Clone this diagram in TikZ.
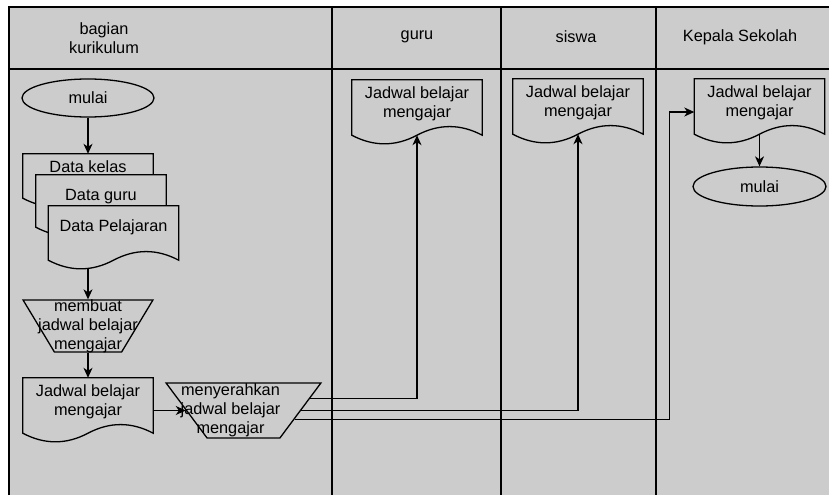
\documentclass[tikz,border=0pt]{standalone}
\usepackage{fontspec}
\setmainfont{Liberation Sans}
\usetikzlibrary{shapes.geometric,arrows.meta,backgrounds,positioning}
\definecolor{lanegray}{HTML}{CCCCCC}
\tikzset{lane line/.style={black,line width=1.3pt},
         lane label/.style={align=center},
         start node/.style={ellipse,draw,fill=lanegray,line width=1.3pt,minimum width=132pt,minimum height=38pt,inner sep=0pt},
         doc node/.style={rectangle,draw=none,minimum width=130pt,minimum height=55pt,inner sep=0pt},
         doc text/.style={anchor=north,align=center,inner xsep=0pt,inner ysep=7pt},
         doc line/.style={draw=black,fill=lanegray,line width=1.3pt},
         manual node/.style={trapezium,draw,fill=lanegray,line width=1.3pt,shape border rotate=180,trapezium stretches=true,inner sep=4pt},
         flow/.style={->,line width=1.2pt},
}
% document outline with a wavy bottom, drawn round a doc node
\newcommand{\docshape}[1]{%
  \path[doc line] (#1.north west) -- (#1.north east) -- (#1.south east)
    .. controls +(-21.7,-11.5) and +(21.7,-11.5) .. (#1.south)
    .. controls +(-21.7,11.5) and +(21.7,11.5) .. (#1.south west) -- cycle;}

\begin{document}
\begin{tikzpicture}[x=1pt,y=-1pt,>={Stealth[length=10pt,width=9pt,inset=3pt]},
font=\fontsize{16.3}{19}\selectfont]
\useasboundingbox (0,0) rectangle (829,495);
\begin{scope}[on background layer]
\fill[lanegray] (9,7) rectangle (829,495);
\draw[lane line] (9,495) -- (9,7) -- (829,7);
\draw[lane line] (9,69) -- (829,69);
\foreach \x in {332,501,656}
  \draw[lane line] (\x,7) -- (\x,495);
\end{scope}

% lane headers
\node[lane label] (hkur) at (104,38.5) {bagian\\kurikulum};
\node (hguru) at (417,37) {guru};
\node (hsiswa) at (576,37) {siswa};
\node (hkepala) at (740,37) {Kepala Sekolah};

% bagian kurikulum
\node[start node] (mulai) at (88,98) {mulai};
\node[doc node,minimum height=44pt,label={[doc text]north:Data kelas}] (dkelas) at (88,176) {};
\node[doc node,minimum height=52pt,label={[doc text,yshift=-7pt]north:Data guru}] (dguru) at (101,201) {};
\node[doc node,minimum height=54pt,label={[doc text,yshift=-7pt]north:Data Pelajaran}] (dpel) at (113.5,233) {};
\node[manual node,trapezium left angle=65,trapezium right angle=65,minimum width=130pt,minimum height=52pt,
      label={[align=center]center:membuat\\jadwal belajar\\mengajar}] (buat) at (88,326) {};
\node[doc node,label={[doc text]north:Jadwal belajar\\mengajar}] (jkur) at (88,405.5) {};
\node[manual node,trapezium left angle=60.6,trapezium right angle=60.6,minimum width=155pt,minimum height=55pt,
      label={[align=center,xshift=-13pt]center:menyerahkan\\jadwal belajar\\mengajar}] (serah) at (243.5,410.5) {};

% guru, siswa, kepala sekolah
\node[doc node,label={[doc text]north:Jadwal belajar\\mengajar}] (jguru) at (417,107.5) {};
\node[doc node,label={[doc text]north:Jadwal belajar\\mengajar}] (jsiswa) at (578,106.5) {};
\node[doc node,label={[doc text]north:Jadwal belajar\\mengajar}] (jkepala) at (759.5,106.5) {};
\node[start node,minimum width=133pt,minimum height=39pt] (mulaiks) at (759.5,186.5) {mulai};

\begin{scope}[on background layer]
\foreach \d in {dkelas,dguru,dpel,jkur,jguru,jsiswa,jkepala}
  \docshape{\d};
\end{scope}

\draw[flow] (mulai) -- (dkelas);
\draw[flow] ([yshift=-8pt]dpel.south -| buat.north) -- (buat);
\draw[flow] (buat) -- (jkur);
\draw[flow] (jkur.east |- serah.west) -- (serah.west);
\draw[flow] (serah.10) -| (jguru.south);
\draw[flow] (serah.east) -| (jsiswa.south);
\draw[flow] (serah.-10) -| ([xshift=-25pt,yshift=-5.5pt]jkepala.west) -- ([yshift=-5.5pt]jkepala.west);
\draw[flow] (jkepala) -- (mulaiks);
\end{tikzpicture}
\end{document}
